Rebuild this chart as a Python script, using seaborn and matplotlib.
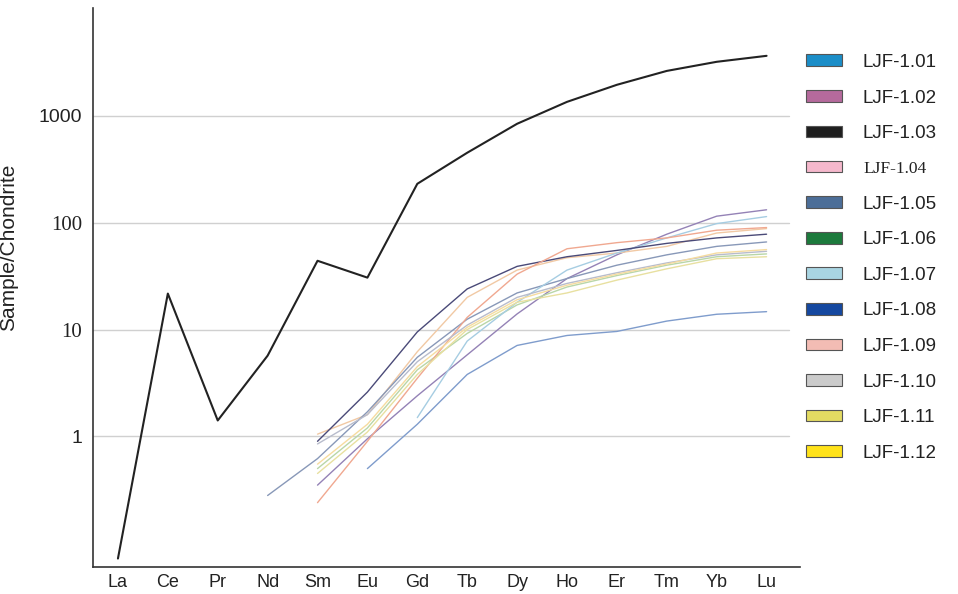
import numpy as np
import pandas as pd
import matplotlib
matplotlib.use("Agg")
import matplotlib.pyplot as plt
import seaborn as sns
from matplotlib.patches import Patch
from matplotlib.ticker import FixedLocator, NullFormatter

# REE elements on the x axis
elements = ["La", "Ce", "Pr", "Nd", "Sm", "Eu", "Gd", "Tb", "Dy", "Ho", "Er", "Tm", "Yb", "Lu"]
nan = np.nan

# chondrite-normalised values
ljf_101 = [nan, nan, nan, nan, nan, 0.5, 1.3, 3.8, 7.1, 8.8, 9.6, 12, 13.9, 14.7]
ljf_102 = [nan, nan, nan, nan, 0.35, 0.95, 2.4, 5.8, 14, 30, 50, 78, 115, 132]
ljf_103 = [0.072, 21.7, 1.41, 5.7, 44, 30.6, 231, 451, 842, 1350, 1950, 2630, 3200, 3640]
ljf_104 = [nan, nan, nan, nan, 1.05, 1.6, 6.2, 20, 36, 47, 52, 60, 80, 88]
ljf_105 = [nan, nan, nan, 0.28, 0.62, 1.7, 5.5, 12.5, 22, 30, 40, 50, 60, 66]
ljf_106 = [nan, nan, nan, nan, 0.5, 1.2, 4.2, 9.2, 17, 25, 32, 40, 48, 51]
ljf_107 = [nan, nan, nan, nan, nan, nan, 1.5, 7.8, 18, 36, 52, 72, 98, 114]
ljf_108 = [nan, nan, nan, nan, 0.9, 2.6, 9.5, 24, 39, 48, 55, 64, 72, 78]
ljf_109 = [nan, nan, nan, nan, 0.24, 0.9, 3.5, 13, 33, 57, 65, 72, 85, 90]
ljf_110 = [nan, nan, nan, nan, 0.85, 1.6, 5.0, 11, 20, 27, 34, 42, 50, 54]
ljf_111 = [nan, nan, nan, nan, 0.45, 1.1, 3.8, 10, 18, 22, 29, 37, 46, 48]
ljf_112 = [nan, nan, nan, nan, 0.55, 1.3, 4.5, 10.5, 19, 26, 33, 41, 52, 56]

samples = ["LJF-1.01", "LJF-1.02", "LJF-1.03", "LJF-1.04", "LJF-1.05", "LJF-1.06",
           "LJF-1.07", "LJF-1.08", "LJF-1.09", "LJF-1.10", "LJF-1.11", "LJF-1.12"]
series = [ljf_101, ljf_102, ljf_103, ljf_104, ljf_105, ljf_106,
          ljf_107, ljf_108, ljf_109, ljf_110, ljf_111, ljf_112]

# colours of the legend boxes and the (paler) lines
box_colors = ["#1b8ec8", "#b56a9c", "#1e1e1e", "#f5b8cc", "#4c6e98", "#1c7a3c",
              "#a9d5e2", "#1548a0", "#f3bcb4", "#cbcbcb", "#e3db62", "#ffe21a"]
line_colors = ["#7f9ccc", "#9482b6", "#222222", "#f1c9a4", "#8898b8", "#b9d6a8",
               "#a6cde2", "#4a4a78", "#f0a890", "#b8bccc", "#e8e0a0", "#f6dca0"]

rows = []
for name, vals in zip(samples, series):
    for i, v in enumerate(vals):
        rows.append({"sample": name, "pos": i, "value": v})
df = pd.DataFrame(rows).dropna()

sns.set_style("white")
plt.rcParams["font.family"] = ["Liberation Sans", "DejaVu Sans"]

fig = plt.figure(figsize=(9.58, 5.94), dpi=100)
ax = fig.add_axes([93 / 958, 27 / 594, 707 / 958, 559 / 594])

# grid first so the lines sit on top
for g in [1, 10, 100, 1000]:
    ax.plot([-0.5, 13.45], [g, g], color="#d0d0d0", lw=1.0, zorder=0)

sns.lineplot(data=df, x="pos", y="value", hue="sample", hue_order=samples,
             palette=dict(zip(samples, line_colors)), legend=False, ax=ax,
             linewidth=1.0, estimator=None, sort=False)
# black line a little heavier
for ln in ax.get_lines()[4:]:
    if ln.get_color() == "#222222":
        ln.set_linewidth(1.5)

ax.set_yscale("log")
ax.set_ylim(0.06, 10200)
ax.set_xlim(-0.5, 13.67)

ax.set_xticks(range(len(elements)))
ax.set_xticklabels(elements, fontsize=13, color="#222222")
ax.xaxis.set_minor_locator(FixedLocator(np.arange(0.5, 13, 1.0)))
ax.tick_params(axis="x", which="major", length=0, pad=5)
ax.tick_params(axis="x", which="minor", length=7, width=1.1, direction="in", color="#333333")

ax.yaxis.set_major_locator(FixedLocator([1, 10, 100, 1000]))
ax.yaxis.set_minor_locator(FixedLocator([]))
ax.yaxis.set_minor_formatter(NullFormatter())
ax.set_yticklabels(["1", "10", "100", "1000"], fontsize=14, color="#222222")
for lab in ax.get_yticklabels():
    if lab.get_text() in ("10", "100"):
        lab.set_fontfamily("Liberation Serif")
        lab.set_fontsize(15)
ax.tick_params(axis="y", length=0, pad=8)

ax.set_xlabel("")
ax.set_ylabel("Sample/Chondrite", fontsize=15, color="#222222")
ax.yaxis.set_label_coords(-0.106, 0.572)

for side in ["top", "right"]:
    ax.spines[side].set_visible(False)
for side in ["left", "bottom"]:
    ax.spines[side].set_color("#333333")
    ax.spines[side].set_linewidth(1.2)

handles = [Patch(facecolor=c, edgecolor="#555555", linewidth=0.8) for c in box_colors]
leg = fig.legend(handles, samples, loc="upper left", bbox_to_anchor=(806 / 958, 1 - 54 / 594),
                 frameon=False, fontsize=13.5, handlelength=1.92, handleheight=0.59,
                 handletextpad=1.12, labelspacing=0.99, borderpad=0, borderaxespad=0)
for t in leg.get_texts():
    t.set_color("#222222")
leg.get_texts()[3].set_fontfamily("Liberation Serif")
leg.get_texts()[3].set_fontsize(12.5)

fig.savefig("out.png", dpi=100)
